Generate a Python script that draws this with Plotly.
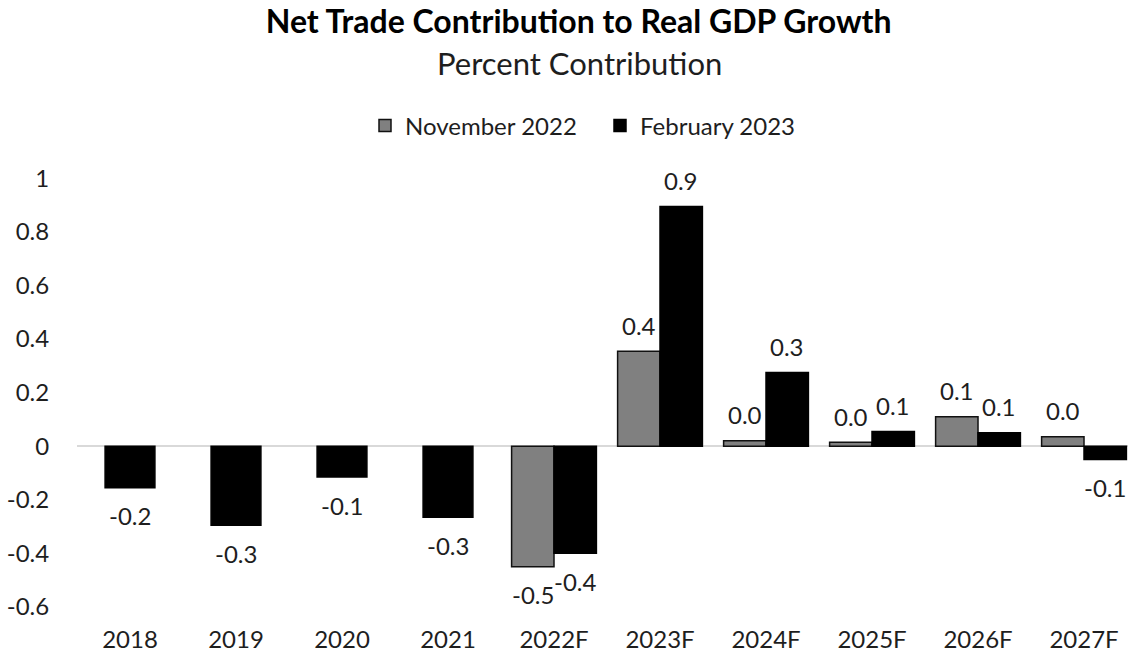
import plotly.graph_objects as go

categories = ["2018", "2019", "2020", "2021", "2022F", "2023F", "2024F", "2025F", "2026F", "2027F"]
nov_2022 = [None, None, None, None, -0.45, 0.355, 0.02, 0.015, 0.11, 0.035]
feb_2023 = [-0.155, -0.295, -0.115, -0.265, -0.40, 0.895, 0.275, 0.055, 0.05, -0.05]
y_ticks = [-0.6, -0.4, -0.2, 0, 0.2, 0.4, 0.6, 0.8, 1.0]
y_tick_labels = ["-0.6", "-0.4", "-0.2", "0", "0.2", "0.4", "0.6", "0.8", "1"]

FONT = "Lato, 'Open Sans', sans-serif"
TXT = "#1e1e1e"
PAIR_W = 0.40
SINGLE_W = 0.47

W, H = 1128, 655
M_L, M_R, M_T, M_B = 77, 0, 173, 32

idx = list(range(len(categories)))

# geometry: paired bars side by side, single bars centered
nov_off, nov_w = [], []
feb_off, feb_w = [], []
for n in nov_2022:
    if n is None:
        nov_off.append(0); nov_w.append(PAIR_W)
        feb_off.append(-SINGLE_W / 2); feb_w.append(SINGLE_W)
    else:
        nov_off.append(-PAIR_W); nov_w.append(PAIR_W)
        feb_off.append(0); feb_w.append(PAIR_W)

fig = go.Figure()
fig.add_trace(go.Bar(
    name="November 2022", x=idx, y=nov_2022, offset=nov_off, width=nov_w,
    marker=dict(color="#808080", line=dict(color="#111111", width=1.5)),
))
fig.add_trace(go.Bar(
    name="February 2023", x=idx, y=feb_2023, offset=feb_off, width=feb_w,
    marker=dict(color="#000000", line=dict(color="#000000", width=1.5)),
))

annotations = []
for series, offs, ws in [(nov_2022, nov_off, nov_w), (feb_2023, feb_off, feb_w)]:
    for i, v in enumerate(series):
        if v is None:
            continue
        annotations.append(dict(
            x=i + offs[i] + ws[i] / 2, y=v, xref="x", yref="y",
            text=f"{v:.1f}", showarrow=False,
            yshift=26 if v >= 0 else -28,
            font=dict(family=FONT, size=24, color=TXT),
        ))

plot_h = H - M_T - M_B
plot_w = W - M_L - M_R
annotations.append(dict(
    text="Percent Contribution", x=(579 - M_L) / plot_w,
    y=1 + (M_T - 63) / plot_h, xref="paper", yref="paper",
    xanchor="center", yanchor="middle", showarrow=False,
    font=dict(family=FONT, size=31, color=TXT),
))

fig.update_layout(
    width=W, height=H,
    paper_bgcolor="white", plot_bgcolor="white",
    barmode="overlay",
    margin=dict(l=M_L, r=M_R, t=M_T, b=M_B, autoexpand=False),
    title=dict(
        text="<b>Net Trade Contribution to Real GDP Growth</b>",
        x=0.513, xanchor="center", y=1 - 22 / H, yanchor="middle",
        font=dict(family=FONT, size=32, color="#000000"),
    ),
    legend=dict(
        orientation="h", x=(365 - M_L) / plot_w, xanchor="left", y=1 + (M_T - 126) / plot_h, yanchor="middle",
        font=dict(family=FONT, size=24, color=TXT), traceorder="normal",
        itemwidth=30, entrywidth=190, entrywidthmode="pixels",
    ),
    annotations=annotations,
    xaxis=dict(
        range=[-0.5, 9.415], tickvals=idx, ticktext=categories,
        showgrid=False, showline=False, zeroline=False, ticks="",
        tickfont=dict(family=FONT, size=24, color=TXT),
    ),
    yaxis=dict(
        range=[-0.66, 1.02], tickvals=y_ticks, ticktext=y_tick_labels,
        showgrid=False, showline=False,
        zeroline=True, zerolinecolor="#d9d9d9", zerolinewidth=2,
        ticks="outside", ticklen=22, tickcolor="rgba(0,0,0,0)",
        tickfont=dict(family=FONT, size=24, color=TXT),
    ),
)

fig.write_html(
    "out.html",
    config={"displayModeBar": False},
    post_script="document.body.style.margin='0';document.documentElement.style.overflow='hidden';",
)
